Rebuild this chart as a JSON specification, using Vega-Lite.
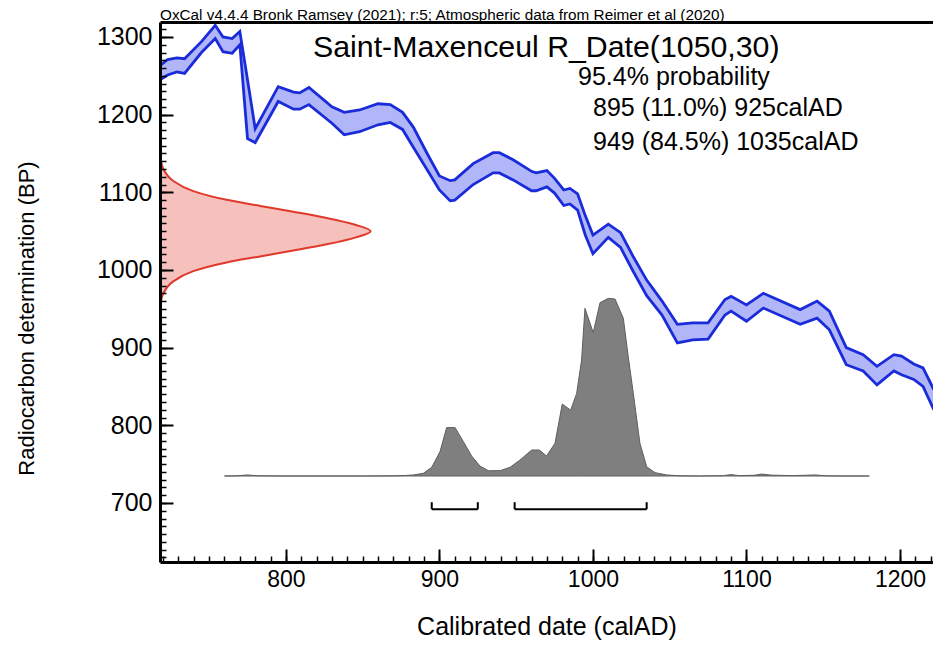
{
  "$schema": "https://vega.github.io/schema/vega-lite/v6.json",
  "width": 773,
  "height": 540,
  "autosize": {"type": "none"},
  "padding": {"left": 160, "top": 22, "right": 0, "bottom": 83},
  "background": "white",
  "title": {"text": "OxCal v4.4.4 Bronk Ramsey (2021); r:5; Atmospheric data from Reimer et al (2020)", "anchor": "start", "frame": "group", "fontSize": 15.3, "fontWeight": "normal", "font": "Liberation Sans", "color": "black", "baseline": "alphabetic", "offset": -16},
  "config": {"view": {"stroke": null}, "font": "Liberation Sans", "axis": {"labelFont": "Liberation Sans", "titleFont": "Liberation Sans", "grid": false}},
  "datasets": {
    "curve": [
      {"year": 718, "hi": 1263, "lo": 1245}, {"year": 723, "hi": 1271, "lo": 1251}, {"year": 729, "hi": 1273, "lo": 1255},
      {"year": 734, "hi": 1272, "lo": 1253}, {"year": 745, "hi": 1294, "lo": 1280}, {"year": 754, "hi": 1315, "lo": 1298},
      {"year": 759, "hi": 1300, "lo": 1281}, {"year": 765, "hi": 1298, "lo": 1279}, {"year": 770, "hi": 1307, "lo": 1290},
      {"year": 775, "hi": 1245, "lo": 1169}, {"year": 780, "hi": 1182, "lo": 1164}, {"year": 795, "hi": 1236, "lo": 1217},
      {"year": 805, "hi": 1229, "lo": 1207}, {"year": 809, "hi": 1228, "lo": 1207}, {"year": 815, "hi": 1235, "lo": 1213},
      {"year": 830, "hi": 1210, "lo": 1189}, {"year": 838, "hi": 1203, "lo": 1174}, {"year": 848, "hi": 1206, "lo": 1178},
      {"year": 860, "hi": 1214, "lo": 1187}, {"year": 868, "hi": 1213, "lo": 1190}, {"year": 876, "hi": 1203, "lo": 1181},
      {"year": 883, "hi": 1184, "lo": 1158}, {"year": 892, "hi": 1150, "lo": 1129}, {"year": 900, "hi": 1121, "lo": 1103},
      {"year": 907, "hi": 1115, "lo": 1089}, {"year": 910, "hi": 1116, "lo": 1090}, {"year": 922, "hi": 1137, "lo": 1110},
      {"year": 935, "hi": 1151, "lo": 1125}, {"year": 939, "hi": 1151, "lo": 1125}, {"year": 948, "hi": 1142, "lo": 1116},
      {"year": 960, "hi": 1127, "lo": 1102}, {"year": 963, "hi": 1125, "lo": 1102}, {"year": 970, "hi": 1128, "lo": 1107},
      {"year": 975, "hi": 1118, "lo": 1099}, {"year": 981, "hi": 1103, "lo": 1083}, {"year": 985, "hi": 1105, "lo": 1085},
      {"year": 990, "hi": 1098, "lo": 1077}, {"year": 995, "hi": 1070, "lo": 1045}, {"year": 1000, "hi": 1045, "lo": 1021},
      {"year": 1010, "hi": 1059, "lo": 1042}, {"year": 1018, "hi": 1048, "lo": 1029}, {"year": 1026, "hi": 1018, "lo": 999},
      {"year": 1035, "hi": 987, "lo": 967}, {"year": 1045, "hi": 960, "lo": 942}, {"year": 1055, "hi": 930, "lo": 906},
      {"year": 1065, "hi": 932, "lo": 910}, {"year": 1075, "hi": 932, "lo": 911}, {"year": 1086, "hi": 962, "lo": 942},
      {"year": 1090, "hi": 966, "lo": 947}, {"year": 1100, "hi": 955, "lo": 934}, {"year": 1111, "hi": 970, "lo": 951},
      {"year": 1135, "hi": 949, "lo": 930}, {"year": 1146, "hi": 960, "lo": 938}, {"year": 1154, "hi": 947, "lo": 923},
      {"year": 1165, "hi": 900, "lo": 878}, {"year": 1176, "hi": 891, "lo": 870}, {"year": 1185, "hi": 876, "lo": 852},
      {"year": 1196, "hi": 891, "lo": 870}, {"year": 1201, "hi": 889, "lo": 865}, {"year": 1209, "hi": 879, "lo": 859},
      {"year": 1215, "hi": 874, "lo": 850}, {"year": 1222, "hi": 846, "lo": 820}
    ],
    "red": [
      {"bp": 950, "p": 0}, {"bp": 955, "p": 0.002}, {"bp": 960, "p": 0.005}, {"bp": 970, "p": 0.016},
      {"bp": 985.4, "p": 0.063}, {"bp": 998.5, "p": 0.158}, {"bp": 1009.7, "p": 0.316}, {"bp": 1017.5, "p": 0.475},
      {"bp": 1025, "p": 0.633}, {"bp": 1033, "p": 0.791}, {"bp": 1042, "p": 0.93}, {"bp": 1050, "p": 1},
      {"bp": 1058, "p": 0.93}, {"bp": 1067, "p": 0.791}, {"bp": 1075, "p": 0.633}, {"bp": 1082.5, "p": 0.475},
      {"bp": 1090.3, "p": 0.316}, {"bp": 1101.5, "p": 0.158}, {"bp": 1114.6, "p": 0.063}, {"bp": 1130, "p": 0.016},
      {"bp": 1140, "p": 0.005}, {"bp": 1145, "p": 0.002}, {"bp": 1152, "p": 0}
    ],
    "gray": [
      {"year": 760, "p": 0}, {"year": 768, "p": 0.001}, {"year": 775, "p": 0.006}, {"year": 782, "p": 0.001},
      {"year": 800, "p": 0}, {"year": 850, "p": 0}, {"year": 870, "p": 0.001}, {"year": 878, "p": 0.003},
      {"year": 883, "p": 0.006}, {"year": 889.5, "p": 0.015}, {"year": 895, "p": 0.049}, {"year": 900.4, "p": 0.137},
      {"year": 904.7, "p": 0.272}, {"year": 910.2, "p": 0.272}, {"year": 915.6, "p": 0.193}, {"year": 921, "p": 0.112},
      {"year": 926.4, "p": 0.056}, {"year": 931.9, "p": 0.03}, {"year": 939.5, "p": 0.03}, {"year": 946, "p": 0.049},
      {"year": 952.5, "p": 0.09}, {"year": 960.1, "p": 0.146}, {"year": 965.1, "p": 0.146}, {"year": 969.8, "p": 0.112},
      {"year": 975.3, "p": 0.184}, {"year": 980, "p": 0.404}, {"year": 985.5, "p": 0.37}, {"year": 989.4, "p": 0.464},
      {"year": 992.6, "p": 0.652}, {"year": 994.8, "p": 0.942}, {"year": 1000.2, "p": 0.805}, {"year": 1004.6, "p": 0.974},
      {"year": 1010, "p": 0.998}, {"year": 1014.4, "p": 0.994}, {"year": 1019.8, "p": 0.886}, {"year": 1023, "p": 0.67},
      {"year": 1026.3, "p": 0.464}, {"year": 1030.6, "p": 0.184}, {"year": 1035, "p": 0.052}, {"year": 1040.4, "p": 0.019},
      {"year": 1048, "p": 0.006}, {"year": 1056.7, "p": 0.001}, {"year": 1070, "p": 0}, {"year": 1085, "p": 0.002},
      {"year": 1090, "p": 0.008}, {"year": 1095, "p": 0.002}, {"year": 1105, "p": 0.004}, {"year": 1110, "p": 0.011},
      {"year": 1116, "p": 0.005}, {"year": 1130, "p": 0.002}, {"year": 1145, "p": 0.006}, {"year": 1152, "p": 0.001},
      {"year": 1165, "p": 0}, {"year": 1180, "p": 0}
    ],
    "ranges": [{"from": 895, "to": 925}, {"from": 949, "to": 1035}]
  },
  "layer": [
    {
      "data": {"name": "curve"},
      "mark": {"type": "area", "color": "#b0b6f8", "opacity": 1},
      "encoding": {
        "x": {"field": "year", "type": "quantitative", "scale": {"domain": [718, 1221.5], "nice": false, "zero": false},
              "axis": {"orient": "bottom", "values": [800, 900, 1000, 1100, 1200], "tickSize": -13, "tickWidth": 2, "tickColor": "black", "domain": true, "domainColor": "black", "domainWidth": 3, "labels": false, "title": null, "zindex": 1}},
        "y": {"field": "lo", "type": "quantitative", "scale": {"domain": [624, 1319.3], "nice": false, "zero": false},
              "axis": {"orient": "left", "values": [700, 800, 900, 1000, 1100, 1200, 1300], "tickSize": -13, "tickWidth": 2, "tickColor": "black", "domain": true, "domainColor": "black", "domainWidth": 3, "labels": false, "title": null, "zindex": 1}},
        "y2": {"field": "hi"}
      }
    },
    {
      "data": {"name": "curve"},
      "mark": {"type": "line", "color": "#1a2bd9", "strokeWidth": 2.8},
      "encoding": {
        "x": {"field": "year", "type": "quantitative", "scale": {"domain": [718, 1221.5], "nice": false, "zero": false},
              "axis": {"orient": "bottom", "values": [720,730,740,750,760,770,780,790,800,810,820,830,840,850,860,870,880,890,900,910,920,930,940,950,960,970,980,990,1000,1010,1020,1030,1040,1050,1060,1070,1080,1090,1100,1110,1120,1130,1140,1150,1160,1170,1180,1190,1200,1210,1220], "tickSize": -6, "tickWidth": 1.5, "tickColor": "black", "domain": false, "labels": false, "title": null, "zindex": 1}},
        "y": {"field": "hi", "type": "quantitative", "scale": {"domain": [624, 1319.3], "nice": false, "zero": false},
              "axis": {"orient": "left", "values": [630,640,650,660,670,680,690,700,710,720,730,740,750,760,770,780,790,800,810,820,830,840,850,860,870,880,890,900,910,920,930,940,950,960,970,980,990,1000,1010,1020,1030,1040,1050,1060,1070,1080,1090,1100,1110,1120,1130,1140,1150,1160,1170,1180,1190,1200,1210,1220,1230,1240,1250,1260,1270,1280,1290,1300,1310], "tickSize": -6, "tickWidth": 1.5, "tickColor": "black", "domain": false, "labels": false, "title": null, "zindex": 1}}
      }
    },
    {
      "data": {"name": "curve"},
      "mark": {"type": "line", "color": "#1a2bd9", "strokeWidth": 2.8},
      "encoding": {
        "x": {"field": "year", "type": "quantitative", "scale": {"domain": [718, 1221.5], "nice": false, "zero": false},
              "axis": {"orient": "bottom", "values": [800, 900, 1000, 1100, 1200], "format": "d", "ticks": false, "domain": false, "labelFontSize": 23, "labelColor": "black", "labelPadding": 6, "title": "Calibrated date (calAD)", "titleFontSize": 25, "titleFontWeight": "normal", "titleColor": "black", "titlePadding": 23}},
        "y": {"field": "lo", "type": "quantitative", "scale": {"domain": [624, 1319.3], "nice": false, "zero": false},
              "axis": {"orient": "left", "values": [700, 800, 900, 1000, 1100, 1200, 1300], "format": "d", "ticks": false, "domain": false, "labelFontSize": 25, "labelColor": "black", "labelPadding": 8, "title": "Radiocarbon determination (BP)", "titleFontSize": 22, "titleFontWeight": "normal", "titleColor": "black", "titlePadding": 58, "titleY": 296}}
      }
    },
    {
      "data": {"name": "gray"},
      "mark": {"type": "area", "fill": "#7f7f7f", "stroke": "#5e5e5e", "strokeWidth": 1},
      "encoding": {
        "x": {"field": "year", "type": "quantitative", "scale": {"domain": [718, 1221.5], "nice": false, "zero": false},
              "axis": {"orient": "top", "domain": true, "domainColor": "black", "domainWidth": 3, "ticks": false, "labels": false, "title": null, "zindex": 1}},
        "y": {"field": "p", "type": "quantitative", "scale": {"domain": [-0.4831, 2.5506], "nice": false, "zero": false}, "axis": null},
        "y2": {"datum": 0}
      }
    },
    {
      "data": {"name": "red"},
      "mark": {"type": "area", "orient": "horizontal", "fill": "#f6c1bc", "stroke": "#e0392b", "strokeWidth": 2, "interpolate": "monotone"},
      "encoding": {
        "y": {"field": "bp", "type": "quantitative", "scale": {"domain": [624, 1319.3], "nice": false, "zero": false}, "axis": null},
        "x": {"field": "p", "type": "quantitative", "scale": {"domain": [0, 3.6687], "nice": false, "zero": false}, "axis": null},
        "x2": {"datum": 0}
      }
    },
    {
      "data": {"name": "ranges"},
      "mark": {"type": "rule", "color": "black", "strokeWidth": 2},
      "encoding": {
        "x": {"field": "from", "type": "quantitative", "scale": {"domain": [718, 1221.5], "nice": false, "zero": false}, "axis": null},
        "x2": {"field": "to"},
        "y": {"datum": 692, "type": "quantitative", "scale": {"domain": [624, 1319.3], "nice": false, "zero": false}, "axis": null}
      }
    },
    {
      "data": {"name": "ranges"},
      "transform": [{"fold": ["from", "to"], "as": ["end", "yr"]}],
      "mark": {"type": "rule", "color": "black", "strokeWidth": 2},
      "encoding": {
        "x": {"field": "yr", "type": "quantitative", "scale": {"domain": [718, 1221.5], "nice": false, "zero": false}, "axis": null},
        "y": {"datum": 692, "type": "quantitative", "scale": {"domain": [624, 1319.3], "nice": false, "zero": false}, "axis": null},
        "y2": {"datum": 701}
      }
    },
    {
      "data": {"values": [{}]},
      "mark": {"type": "text", "text": "Saint-Maxenceul R_Date(1050,30)", "align": "left", "baseline": "middle", "fontSize": 30.3, "font": "Liberation Sans", "color": "black"},
      "encoding": {
        "x": {"datum": 817.7, "type": "quantitative", "scale": {"domain": [718, 1221.5], "nice": false, "zero": false}, "axis": null},
        "y": {"datum": 1285.8, "type": "quantitative", "scale": {"domain": [624, 1319.3], "nice": false, "zero": false}, "axis": null}
      }
    },
    {
      "data": {"values": [{}]},
      "mark": {"type": "text", "text": "95.4% probability", "align": "left", "baseline": "middle", "fontSize": 25, "font": "Liberation Sans", "color": "black"},
      "encoding": {
        "x": {"datum": 990.3, "type": "quantitative", "scale": {"domain": [718, 1221.5], "nice": false, "zero": false}, "axis": null},
        "y": {"datum": 1248, "type": "quantitative", "scale": {"domain": [624, 1319.3], "nice": false, "zero": false}, "axis": null}
      }
    },
    {
      "data": {"values": [{}]},
      "mark": {"type": "text", "text": "895 (11.0%) 925calAD", "align": "left", "baseline": "middle", "fontSize": 25, "font": "Liberation Sans", "color": "black"},
      "encoding": {
        "x": {"datum": 1000.05, "type": "quantitative", "scale": {"domain": [718, 1221.5], "nice": false, "zero": false}, "axis": null},
        "y": {"datum": 1208.6, "type": "quantitative", "scale": {"domain": [624, 1319.3], "nice": false, "zero": false}, "axis": null}
      }
    },
    {
      "data": {"values": [{}]},
      "mark": {"type": "text", "text": "949 (84.5%) 1035calAD", "align": "left", "baseline": "middle", "fontSize": 25, "font": "Liberation Sans", "color": "black"},
      "encoding": {
        "x": {"datum": 1000.05, "type": "quantitative", "scale": {"domain": [718, 1221.5], "nice": false, "zero": false}, "axis": null},
        "y": {"datum": 1164.8, "type": "quantitative", "scale": {"domain": [624, 1319.3], "nice": false, "zero": false}, "axis": null}
      }
    }
  ],
  "resolve": {"scale": {"x": "independent", "y": "independent"}, "axis": {"x": "independent", "y": "independent"}}
}
